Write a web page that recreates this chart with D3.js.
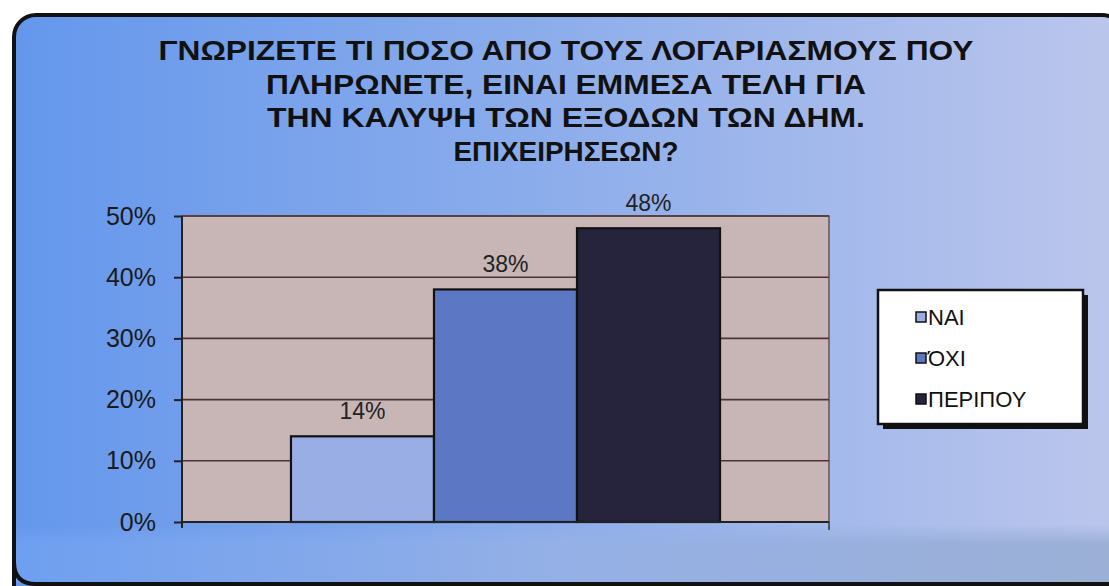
<!DOCTYPE html>
<html><head><meta charset="utf-8">
<script src="https://cdn.jsdelivr.net/npm/d3@7"></script>
<style>body{margin:0;background:#fff;}svg{display:block;font-family:Arial,"Liberation Sans",sans-serif;}</style>
</head><body><svg id="c" width="1109" height="586"></svg>
<script>
const titleLines = ["ΓΝΩΡΙΖΕΤΕ ΤΙ ΠΟΣΟ ΑΠΟ ΤΟΥΣ ΛΟΓΑΡΙΑΣΜΟΥΣ ΠΟΥ","ΠΛΗΡΩΝΕΤΕ, ΕΙΝΑΙ ΕΜΜΕΣΑ ΤΕΛΗ ΓΙΑ","ΤΗΝ ΚΑΛΥΨΗ ΤΩΝ ΕΞΟΔΩΝ ΤΩΝ ΔΗΜ.","ΕΠΙΧΕΙΡΗΣΕΩΝ?"];
const titleWidths = [815, 600, 598, 225];
const series = ["ΝΑΙ","ΌΧΙ","ΠΕΡΙΠΟΥ"];
const values = [0.14, 0.38, 0.48];
const valueLabels = ["14%","38%","48%"];
const colors = ["#9aaee6","#5c78c4","#25243c"];
const yTicks = [0,0.1,0.2,0.3,0.4,0.5];

const svg = d3.select("#c");
const defs = svg.append("defs");
const g1 = defs.append("linearGradient").attr("id","bg").attr("x1","0").attr("x2","1").attr("y1","0").attr("y2","0");
g1.append("stop").attr("offset","0").attr("stop-color","#6497ec");
g1.append("stop").attr("offset","0.5").attr("stop-color","#8eaeeb");
g1.append("stop").attr("offset","1").attr("stop-color","#bcc6ec");
const g2 = defs.append("linearGradient").attr("id","bot").attr("x1","0").attr("x2","1").attr("y1","0").attr("y2","0");
g2.append("stop").attr("offset","0").attr("stop-color","#6e9ff0");
g2.append("stop").attr("offset","0.5").attr("stop-color","#95b0e6");
g2.append("stop").attr("offset","1").attr("stop-color","#9cb0d6");
const m = defs.append("linearGradient").attr("id","fade").attr("x1","0").attr("x2","0").attr("y1","0").attr("y2","1");
m.append("stop").attr("offset","0").attr("stop-color","#fff").attr("stop-opacity",0);
m.append("stop").attr("offset","0.3").attr("stop-color","#fff").attr("stop-opacity",1);
m.append("stop").attr("offset","1").attr("stop-color","#fff").attr("stop-opacity",1);
defs.append("mask").attr("id","fm").append("rect").attr("x",0).attr("y",525).attr("width",1109).attr("height",61).attr("fill","url(#fade)");

// frame
svg.append("rect").attr("x",14).attr("y",15).attr("width",1110).attr("height",600).attr("rx",22)
  .attr("fill","url(#bg)").attr("stroke","#111").attr("stroke-width",4);
svg.append("rect").attr("x",16).attr("y",525).attr("width",1093).attr("height",58).attr("fill","url(#bot)").attr("mask","url(#fm)");
svg.append("path").attr("d","M14,540 L14,562 Q14,584 36,584 L1109,584").attr("fill","none").attr("stroke","#111").attr("stroke-width",4);

// title
svg.append("g").selectAll("text").data(titleLines).join("text")
  .attr("x",566).attr("y",(d,i)=>60+i*33.5).attr("text-anchor","middle")
  .attr("font-size",28).attr("font-weight","bold").attr("fill","#111")
  .attr("textLength",(d,i)=>titleWidths[i]).attr("lengthAdjust","spacingAndGlyphs")
  .text(d=>d);

// plot
const pLeft=182, pRight=829, pTop=216, pBottom=522;
const y = d3.scaleLinear().domain([0,0.5]).range([pBottom,pTop]);
const x0 = d3.scaleBand().domain(["g"]).range([pLeft,pRight]).paddingInner(0).paddingOuter(0.254);
const x1 = d3.scaleBand().domain(series).range([x0("g"), x0("g")+x0.bandwidth()]).padding(0);

svg.append("rect").attr("x",pLeft).attr("y",pTop).attr("width",pRight-pLeft).attr("height",pBottom-pTop)
  .attr("fill","#c8b6b6").attr("stroke","#6a5050").attr("stroke-width",1.5);
svg.append("g").selectAll("line").data(yTicks.slice(1)).join("line")
  .attr("x1",pLeft).attr("x2",pRight).attr("y1",d=>y(d)).attr("y2",d=>y(d))
  .attr("stroke","#4a3434").attr("stroke-width",1.6);

// bars
svg.append("g").selectAll("rect").data(series).join("rect")
  .attr("x",d=>x1(d)).attr("y",(d,i)=>y(values[i])).attr("width",x1.bandwidth())
  .attr("height",(d,i)=>pBottom-y(values[i])).attr("fill",(d,i)=>colors[i])
  .attr("stroke","#111").attr("stroke-width",2.2);

svg.append("g").selectAll("text").data(series).join("text")
  .attr("x",d=>x1(d)+x1.bandwidth()/2).attr("y",(d,i)=>y(values[i])-17)
  .attr("text-anchor","middle").attr("font-size",23).attr("fill","#222")
  .text((d,i)=>valueLabels[i]);

// axes
const yAxis = d3.axisLeft(y).tickValues(yTicks).tickFormat(d3.format(".0%")).tickSize(8).tickPadding(18);
const ga = svg.append("g").attr("transform",`translate(${pLeft},0)`).call(yAxis);
ga.select(".domain").attr("stroke","#222").attr("stroke-width",2).attr("d",`M0,${pTop}V${pBottom+6}`);
ga.selectAll(".tick line").attr("stroke","#222").attr("stroke-width",2);
ga.selectAll(".tick text").attr("font-size",25).attr("fill","#1a1a1a").attr("font-family","Arial,'Liberation Sans',sans-serif");
svg.append("line").attr("x1",pLeft).attr("x2",pRight).attr("y1",pBottom).attr("y2",pBottom).attr("stroke","#222").attr("stroke-width",2);
svg.append("line").attr("x1",pRight).attr("x2",pRight).attr("y1",pBottom).attr("y2",pBottom+8).attr("stroke","#333").attr("stroke-width",1.5);

// legend
const lg = svg.append("g");
lg.append("rect").attr("x",883).attr("y",295).attr("width",205).attr("height",134).attr("fill","#111");
lg.append("rect").attr("x",878).attr("y",290).attr("width",205).attr("height",134).attr("fill","#fff").attr("stroke","#111").attr("stroke-width",2.5);
const li = lg.selectAll("g.it").data(series).join("g").attr("class","it")
  .attr("transform",(d,i)=>`translate(916,${317+i*41})`);
li.append("rect").attr("x",0).attr("y",-5).attr("width",10).attr("height",10)
  .attr("fill",(d,i)=>colors[i]).attr("stroke","#111").attr("stroke-width",1.5);
li.append("text").attr("x",12).attr("y",8).attr("font-size",22).attr("fill","#111").text(d=>d);
</script></body></html>
